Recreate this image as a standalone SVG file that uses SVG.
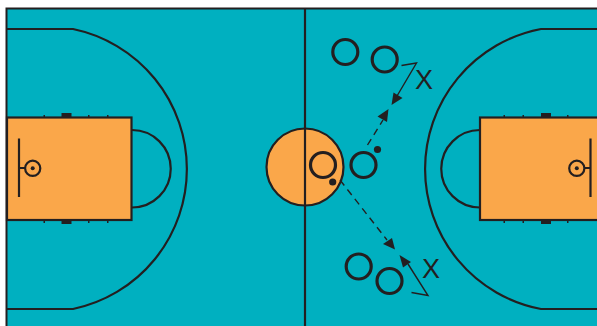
<svg xmlns="http://www.w3.org/2000/svg" width="597" height="326" viewBox="0 0 597 326">
<style>
.l{fill:none;stroke:#231f20;stroke-width:2.200}
.k{fill:#faa74a;stroke:#231f20;stroke-width:2.200}
.p{fill:none;stroke:#231f20;stroke-width:3.200}
.t{fill:none;stroke:#231f20;stroke-width:1.400}
.d{fill:#231f20;stroke:none}
.x{font-family:"Liberation Sans",Arial,sans-serif;font-size:27px;fill:#231f20}
</style>
<rect x="0" y="0" width="597" height="326" fill="#fff"/>
<rect x="6.500" y="8.500" width="600" height="330" fill="#00b0c0" stroke="#231f20" stroke-width="2"/>
<g id="court-left">
<path class="l" d="M7 29H73A143 143 0 0 1 73 309H7"/>
<path class="l" d="M132 130A38.500 38.500 0 0 1 132 207.500"/>
<rect class="k" x="7" y="117.500" width="124.500" height="102.500"/>
<path class="d" d="M61.500 113h10v4h-10zM61.500 220h10v4h-10zM43.500 115h1.500v2h-1.500zM88 115h1.500v2h-1.500zM107 115h1.500v2h-1.500zM43.500 221h1.500v2h-1.500zM88 221h1.500v2h-1.500zM107 221h1.500v2h-1.500z"/>
<path class="l" d="M19 138.500V197M19 168H25"/>
<circle class="l" cx="32.700" cy="168.300" r="7.600"/>
<circle class="d" cx="32.700" cy="168.300" r="2"/>
</g>
<g id="court-right">
<path class="l" d="M597 29H541A142.500 142.500 0 0 0 541 309H597"/>
<path class="l" d="M480 130A38.500 38.500 0 0 0 480 207.500"/>
<rect class="k" x="480" y="117.500" width="125" height="102.500"/>
<path class="d" d="M541 113h10v4h-10zM541 220h10v4h-10zM503.500 115h1.500v2h-1.500zM522.500 115h1.500v2h-1.500zM567 115h1.500v2h-1.500zM503.500 221h1.500v2h-1.500zM522.500 221h1.500v2h-1.500zM567 221h1.500v2h-1.500z"/>
<path class="l" d="M590.500 138.500V197M585 168H590.500"/>
<circle class="l" cx="576.800" cy="168.300" r="7.600"/>
<circle class="d" cx="576.800" cy="168.300" r="2"/>
</g>
<g id="center">
<circle class="k" cx="305" cy="167" r="38.500"/>
<path class="l" d="M305 8V326"/>
</g>
<g id="connectors">
<path class="t" stroke-dasharray="7 5" d="M367.500 145L383 120"/>
<path class="d" d="M388.500 109L377.500 116.500L387 122Z"/>
<path class="t" d="M401.500 65.500L416.500 63L397 96"/>
<path class="d" d="M391.500 105L393.500 92.500L402.500 98Z"/>
<path class="t" stroke-dasharray="7 5" d="M340 180L387 240"/>
<path class="d" d="M395 249.500L383 244L392 238Z"/>
<path class="t" d="M411.500 292.500L428 295.500L408 264"/>
<path class="d" d="M399.500 255L411 262L403 267.500Z"/>
</g>
<g id="player-1"><circle class="p" cx="345.300" cy="52" r="12.500"/></g>
<g id="player-2"><circle class="p" cx="384.700" cy="59.500" r="12.500"/></g>
<g id="player-3"><circle class="p" cx="363.500" cy="165" r="12.500"/><circle class="d" cx="377.500" cy="149.500" r="3.600"/></g>
<g id="player-4"><circle class="p" cx="323" cy="165" r="12.500"/><circle class="d" cx="332.700" cy="182" r="3.600"/></g>
<g id="player-5"><circle class="p" cx="358.700" cy="266.500" r="12.500"/></g>
<g id="player-6"><circle class="p" cx="389.500" cy="281" r="12.500"/></g>
<g id="defender-top"><text class="x" x="415" y="89">X</text></g>
<g id="defender-bottom"><text class="x" x="422" y="278">X</text></g>
</svg>
